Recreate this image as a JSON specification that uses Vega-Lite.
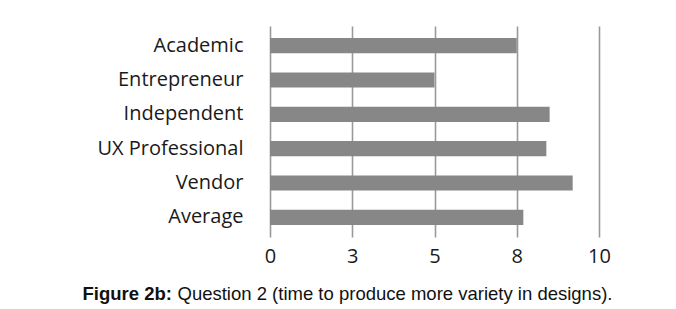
{
  "$schema": "https://vega.github.io/schema/vega-lite/v6.json",
  "autosize": {"type": "none"},
  "padding": {"left": 270, "top": 26, "right": 77, "bottom": 72},
  "width": 329,
  "height": 211,
  "background": "white",
  "config": {"view": {"stroke": null}},
  "data": {
    "values": [
      {"group": "Academic", "value": 7.5},
      {"group": "Entrepreneur", "value": 5.0},
      {"group": "Independent", "value": 8.5},
      {"group": "UX Professional\u2002\u2002", "value": 8.4},
      {"group": "Vendor", "value": 9.2},
      {"group": "Average", "value": 7.7}
    ]
  },
  "mark": {"type": "bar", "color": "#878787"},
  "encoding": {
    "y": {
      "field": "group",
      "type": "nominal",
      "sort": null,
      "scale": {"paddingInner": 0.56, "paddingOuter": 0.35},
      "axis": {
        "title": "Figure 2b:",
        "titleAngle": 0,
        "titleAlign": "left",
        "titleBaseline": "middle",
        "titleX": -188,
        "titleY": 267,
        "titleFont": "Liberation Sans",
        "titleFontSize": 18.5,
        "titleFontWeight": "bold",
        "titleColor": "#111",
        "domain": false,
        "ticks": false,
        "labelPadding": 27,
        "labelFont": "Open Sans",
        "labelFontSize": 20,
        "labelColor": "#1a1a1a"
      }
    },
    "x": {
      "field": "value",
      "type": "quantitative",
      "scale": {"domain": [0, 10], "nice": false},
      "axis": {
        "values": [0, 2.5, 5, 7.5, 10],
        "labelExpr": "format(round(datum.value), 'd')",
        "labelFlush": false,
        "title": "Question 2 (time to produce more variety in designs).",
        "titleAlign": "left",
        "titleAnchor": "start",
        "titleBaseline": "middle",
        "titleX": -93,
        "titleY": 56,
        "titleFont": "Liberation Sans",
        "titleFontSize": 18.5,
        "titleFontWeight": "normal",
        "titleColor": "#111",
        "domain": false,
        "ticks": false,
        "grid": true,
        "gridColor": "#999999",
        "gridWidth": 1.6,
        "labelPadding": 9,
        "labelFont": "Open Sans",
        "labelFontSize": 20,
        "labelColor": "#1a1a1a"
      }
    }
  }
}
